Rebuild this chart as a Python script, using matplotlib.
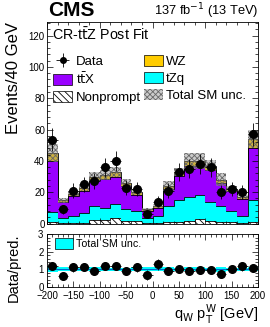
import matplotlib
matplotlib.use("Agg")
import matplotlib.pyplot as plt
import numpy as np
from matplotlib.patches import Patch
from matplotlib.ticker import AutoMinorLocator, MultipleLocator

plt.rcParams["font.family"] = ["Liberation Sans", "DejaVu Sans"]
plt.rcParams["hatch.linewidth"] = 0.6

# bins in q_W * pT^W [GeV]
bin_edges = [-200, -180, -160, -140, -120, -100, -80, -60, -40, -20, 0,
             20, 40, 60, 80, 100, 120, 140, 160, 180, 200]
bin_centers = [-190, -170, -150, -130, -110, -90, -70, -50, -30, -10,
               10, 30, 50, 70, 90, 110, 130, 150, 170, 190]

# stacked backgrounds (bottom to top)
nonprompt = [0.8, 0.5, 0.5, 0.5, 2.5, 2.0, 3.5, 1.5, 1.5, 0.5,
             0.5, 1.0, 1.0, 1.5, 3.0, 1.5, 1.0, 1.0, 0.5, 1.0]
tzq = [6.5, 3.3, 4.5, 6.0, 8.5, 8.0, 9.0, 7.5, 6.5, 3.0,
       4.5, 10.0, 14.0, 15.5, 15.0, 12.5, 10.0, 7.0, 4.5, 14.0]
ttx = [32.7, 10.0, 12.5, 14.0, 16.5, 18.5, 17.5, 15.0, 10.5, 4.7,
       5.0, 11.0, 15.5, 20.0, 19.0, 20.5, 15.0, 12.5, 10.5, 33.0]
wz = [5.0, 1.0, 1.5, 2.0, 2.5, 2.5, 3.0, 2.0, 1.5, 0.8,
      1.0, 2.0, 2.5, 3.0, 3.0, 2.5, 2.0, 1.5, 1.5, 6.0]
total_unc = [6.0, 1.8, 1.5, 2.0, 3.0, 3.5, 3.0, 2.5, 2.0, 1.0,
             1.2, 3.0, 2.5, 5.0, 5.0, 3.5, 4.0, 2.0, 1.5, 6.0]

# observed data
data = [53.5, 9.0, 21.0, 25.0, 27.0, 36.0, 40.0, 23.0, 22.0, 6.0,
        14.0, 21.0, 33.0, 35.0, 38.0, 36.0, 20.0, 22.0, 20.0, 57.0]
data_err = [7.3, 3.0, 4.6, 5.0, 5.2, 6.0, 6.3, 4.8, 4.7, 2.5,
            3.7, 4.6, 5.7, 5.9, 6.2, 6.0, 4.5, 4.7, 4.5, 7.5]

edges = np.array(bin_edges)
centers = np.array(bin_centers)
components = [
    (np.array(nonprompt), "white", "\\\\\\\\\\"),
    (np.array(tzq), "#00ffff", None),
    (np.array(ttx), "#9900ff", None),
    (np.array(wz), "#ffcc00", None),
]
unc_face = (0.55, 0.55, 0.55, 0.45)

fig = plt.figure(figsize=(2.7, 3.27), dpi=100)
ax = fig.add_axes([0.174, 0.3165, 0.782, 0.6175])
rax = fig.add_axes([0.174, 0.1232, 0.782, 0.1603])

bottom = np.zeros(len(centers))
for values, color, hatch in components:
    top = bottom + values
    ax.stairs(top, edges, baseline=bottom, fill=True, facecolor=color,
              edgecolor="black" if hatch else color, hatch=hatch, linewidth=0)
    ax.stairs(top, edges, color="black", linewidth=0.6)
    bottom = top
total = bottom
unc = np.array(total_unc)

ax.stairs(total + unc, edges, baseline=total - unc, fill=True, facecolor=unc_face,
          edgecolor="#666666", hatch="xxxxxx", linewidth=0)

data_arr = np.array(data)
err_arr = np.array(data_err)
ax.errorbar(centers, data_arr, yerr=err_arr, xerr=10, fmt="o", color="black",
            markersize=5.5, elinewidth=0.6, capsize=0)

ax.set_xlim(-200, 200)
ax.set_ylim(0, 129)
ax.set_ylabel("Events/40 GeV", fontsize=12, loc="top")
ax.yaxis.set_label_coords(-0.125, 1.0)
ax.yaxis.set_major_locator(MultipleLocator(20))
ax.tick_params(labelbottom=False)

ax.text(0.025, 0.935, r"CR-t$\bar{\rm t}$Z Post Fit", transform=ax.transAxes,
        fontsize=10.3, ha="left", va="center")

handles = [
    ax.errorbar([], [], yerr=[], xerr=[], fmt="o", color="black", markersize=4, elinewidth=0.6),
    Patch(facecolor="#9900ff", edgecolor="black", linewidth=0.5),
    Patch(facecolor="white", edgecolor="black", hatch="\\\\\\\\\\", linewidth=0.5),
    Patch(facecolor="#ffcc00", edgecolor="black", linewidth=0.5),
    Patch(facecolor="#00ffff", edgecolor="black", linewidth=0.5),
    Patch(facecolor=unc_face, edgecolor="#666666", hatch="xxxxxx", linewidth=0),
]
labels = ["Data", r"t$\bar{\rm t}$X", "Nonprompt", "WZ", "tZq", "Total SM unc."]
ax.legend(handles, labels, ncol=2, loc="upper left", bbox_to_anchor=(0.03, 0.835),
          frameon=False, fontsize=9.5, handlelength=1.45, handleheight=0.9,
          handletextpad=0.25, columnspacing=0.2, labelspacing=0.3, borderaxespad=0,
          borderpad=0)

fig.text(0.178, 0.968, "CMS", fontsize=15, fontweight="bold", ha="left", va="center")
fig.text(0.956, 0.966, r"137 fb$^{-1}$ (13 TeV)", fontsize=9.3, ha="right", va="center")

# ratio panel
rel = unc / total
rax.stairs(1 + rel, edges, baseline=1 - rel, fill=True, color="#00ffff", linewidth=0)
rax.axhline(1, color="#0066cc", linewidth=0.8)
rax.errorbar(centers, data_arr / total, yerr=err_arr / total, xerr=10, fmt="o",
             color="black", markersize=5.5, elinewidth=0.6, capsize=0)
rax.set_xlim(-200, 200)
rax.set_ylim(0, 3)
rax.yaxis.set_major_locator(MultipleLocator(1))
rax.xaxis.set_major_locator(MultipleLocator(50))
rax.set_ylabel("Data/pred.", fontsize=10.5)
rax.yaxis.set_label_coords(-0.125, 0.36)
rax.set_xlabel(r"q$_{\rm W}$ p$_{\rm T}^{\rm W}$ [GeV]", fontsize=10.5, loc="right")
rax.xaxis.set_label_coords(1.0, -0.3)
rax.legend([Patch(facecolor="#00ffff", edgecolor="black", linewidth=0.5)], ["Total SM unc."],
           loc="upper left", bbox_to_anchor=(0.04, 0.92), frameon=False, fontsize=7.7,
           handlelength=1.6, handleheight=1.1, handletextpad=0.3, borderaxespad=0,
           borderpad=0)

for a in (ax, rax):
    a.xaxis.set_minor_locator(AutoMinorLocator(5))
    a.yaxis.set_minor_locator(AutoMinorLocator(5))
    a.tick_params(which="both", direction="in", top=True, right=True, labelsize=7,
                  width=0.5, pad=1.5)
    a.tick_params(which="major", length=4)
    a.tick_params(which="minor", length=2)
    for s in a.spines.values():
        s.set_linewidth(0.6)
rax.tick_params(axis="x", which="both", pad=3.2)
rax.tick_params(axis="y", which="both", pad=2.5)

fig.savefig("out.png", dpi=100)
